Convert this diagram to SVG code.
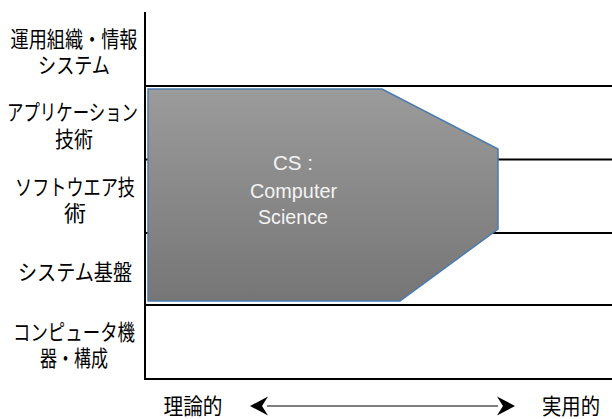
<svg xmlns="http://www.w3.org/2000/svg" width="612" height="419" viewBox="0 0 612 419">
<defs>
<style>
.lbl{font-family:"Liberation Sans","Noto Sans CJK JP",sans-serif;font-size:22px;fill:#000;text-anchor:middle}
.cs{font-family:"Liberation Sans",sans-serif;font-size:21px;fill:#f4f4f4;text-anchor:middle}
.grid{stroke:#000;stroke-width:2;fill:none}
</style>
<linearGradient id="g" x1="0" y1="0" x2="0" y2="1">
<stop offset="0" stop-color="#9b9b9b"/>
<stop offset="1" stop-color="#767676"/>
</linearGradient>
<marker id="ah" viewBox="0 0 19 20" refX="1" refY="10" markerWidth="19" markerHeight="20" markerUnits="userSpaceOnUse" orient="auto-start-reverse">
<path d="M18,10 L0,0.5 L6,10 L0,19.5 Z" fill="#000"/>
</marker>
</defs>
<g id="grid">
<line class="grid" x1="145" y1="12" x2="145" y2="380" stroke-width="1.5"/>
<line class="grid" x1="145" y1="86" x2="612" y2="86"/>
<line class="grid" x1="145" y1="159.5" x2="612" y2="159.5"/>
<line class="grid" x1="145" y1="233" x2="612" y2="233"/>
<line class="grid" x1="145" y1="305" x2="612" y2="305"/>
<line class="grid" x1="145" y1="379" x2="612" y2="379"/>
</g>
<g id="cs">
<path d="M148,89 L382,89 L498,149 L498,229 L400,301 L148,301 Z" fill="url(#g)" stroke="#4a7bb0" stroke-width="1.5"/>
<text class="cs" x="293" y="170" textLength="40" lengthAdjust="spacingAndGlyphs">CS :</text>
<text class="cs" x="293.5" y="198" textLength="87" lengthAdjust="spacingAndGlyphs">Computer</text>
<text class="cs" x="293" y="223.5" textLength="70" lengthAdjust="spacingAndGlyphs">Science</text>
</g>
<g id="labels">
<text class="lbl" x="74" y="47" textLength="127" lengthAdjust="spacingAndGlyphs">運用組織・情報</text>
<text class="lbl" x="74" y="73" textLength="72" lengthAdjust="spacingAndGlyphs">システム</text>
<text class="lbl" x="72.5" y="120" textLength="131" lengthAdjust="spacingAndGlyphs">アプリケーション</text>
<text class="lbl" x="74" y="147" textLength="38" lengthAdjust="spacingAndGlyphs">技術</text>
<text class="lbl" x="75" y="195" textLength="120" lengthAdjust="spacingAndGlyphs">ソフトウエア技</text>
<text class="lbl" x="75" y="221">術</text>
<text class="lbl" x="75" y="280" textLength="114" lengthAdjust="spacingAndGlyphs">システム基盤</text>
<text class="lbl" x="74" y="340" textLength="122" lengthAdjust="spacingAndGlyphs">コンピュータ機</text>
<text class="lbl" x="74" y="366" textLength="68" lengthAdjust="spacingAndGlyphs">器・構成</text>
<text class="lbl" x="193" y="414" textLength="59" lengthAdjust="spacingAndGlyphs">理論的</text>
<text class="lbl" x="571" y="414" textLength="58" lengthAdjust="spacingAndGlyphs">実用的</text>
</g>
<g id="connectors">
<line x1="267" y1="406" x2="498" y2="406" stroke="#000" stroke-width="1" marker-start="url(#ah)" marker-end="url(#ah)"/>
</g>
</svg>
